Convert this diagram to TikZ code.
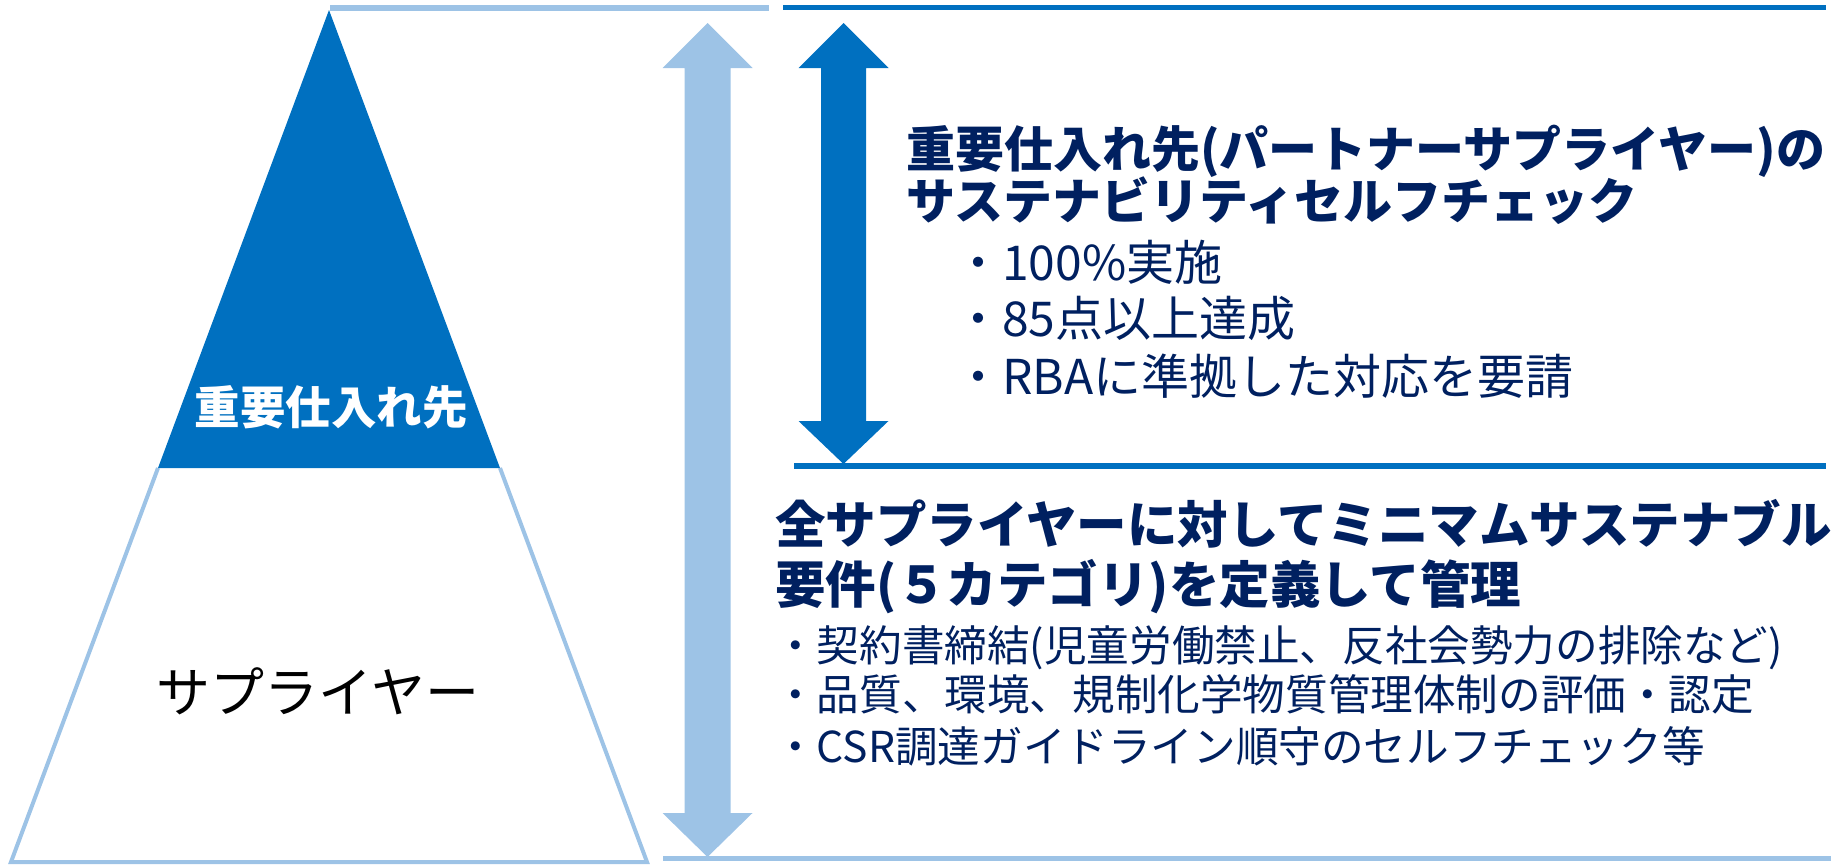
\documentclass[tikz,border=0pt]{standalone}
\usepackage{fontspec}
\newfontfamily\jp{Noto Sans CJK JP}
\definecolor{dblue}{HTML}{0070C0}
\definecolor{lblue}{HTML}{9DC3E6}
\definecolor{navy}{HTML}{002060}
\tikzset{
  headA/.style={anchor=base west, inner sep=0pt, text=navy, font=\jp\bfseries\fontsize{49}{49}\selectfont},
  headB/.style={anchor=base west, inner sep=0pt, text=navy, font=\jp\bfseries\fontsize{50.5}{50.5}\selectfont},
  bulA/.style={anchor=base west, inner sep=0pt, text=navy, font=\jp\fontsize{48}{48}\selectfont},
  bulB/.style={anchor=base west, inner sep=0pt, text=navy, font=\jp\fontsize{42.6}{42.6}\selectfont},
  rule/.style={line width=6pt},
}
\begin{document}
\begin{tikzpicture}[x=1pt,y=-1pt]
\useasboundingbox (0,0) rectangle (1847,865);
% pyramid
\coordinate (apex) at (329,10);
\coordinate (tl) at (158,468);
\coordinate (tr) at (500,468);
\coordinate (bl) at (11,862);
\coordinate (br) at (647,862);
\draw[lblue, line width=4pt, line join=miter] (tl) -- (bl) -- (br) -- (tr);
\fill[dblue] (apex) -- (tl) -- (tr) -- cycle;
\node[inner sep=0pt, text=white, font=\jp\bfseries\fontsize{45.5}{45.5}\selectfont] (key) at (331,407) {重要仕入れ先};
\node[inner sep=0pt, text=black, font=\jp\fontsize{54}{54}\selectfont] (sup) at (318,691) {サプライヤー};
% horizontal rules
\draw[lblue, rule] (330,7.5) -- (769,7.5);
\draw[dblue, line width=5.5pt] (783,7.5) -- (1826,7.5);
\draw[dblue, line width=5.5pt] (794,466) -- (1826,466);
\draw[lblue, line width=5.5pt] (663,858.5) -- (1831,858.5);
% light double arrow
\fill[lblue] (707.5,23) -- (752.5,68) -- (730.5,68) -- (730.5,813) -- (752.5,813) -- (707.5,857)
  -- (662.5,813) -- (684.5,813) -- (684.5,68) -- (662.5,68) -- cycle;
% dark double arrow
\fill[dblue] (843.5,23) -- (888.5,68) -- (866,68) -- (866,421) -- (888.5,421) -- (843.5,464)
  -- (798.5,421) -- (821,421) -- (821,68) -- (798.5,68) -- cycle;
% texts upper
\node[headA] (h1a) at (906,167.6) {重要仕入れ先(パートナーサプライヤー)の};
\node[headA] (h1b) at (906,219.6) {サステナビリティセルフチェック};
\node[bulA] (b1a) at (954,280.2) {・100\%実施};
\node[bulA] (b1b) at (954,336.2) {・85点以上達成};
\node[bulA] (b1c) at (954,394.2) {・RBAに準拠した対応を要請};
% texts lower
\node[headB] (h2a) at (775,543.7) {全サプライヤーに対してミニマムサステナブル};
\node[headB] (h2b) at (775,603.2) {要件(５カテゴリ)を定義して管理};
\node[bulB] (b2a) at (774,661.2) {・契約書締結(児童労働禁止、反社会勢力の排除など)};
\node[bulB] (b2b) at (774,710.2) {・品質、環境、規制化学物質管理体制の評価・認定};
\node[bulB] (b2c) at (774,762.7) {・CSR調達ガイドライン順守のセルフチェック等};
\end{tikzpicture}
\end{document}
